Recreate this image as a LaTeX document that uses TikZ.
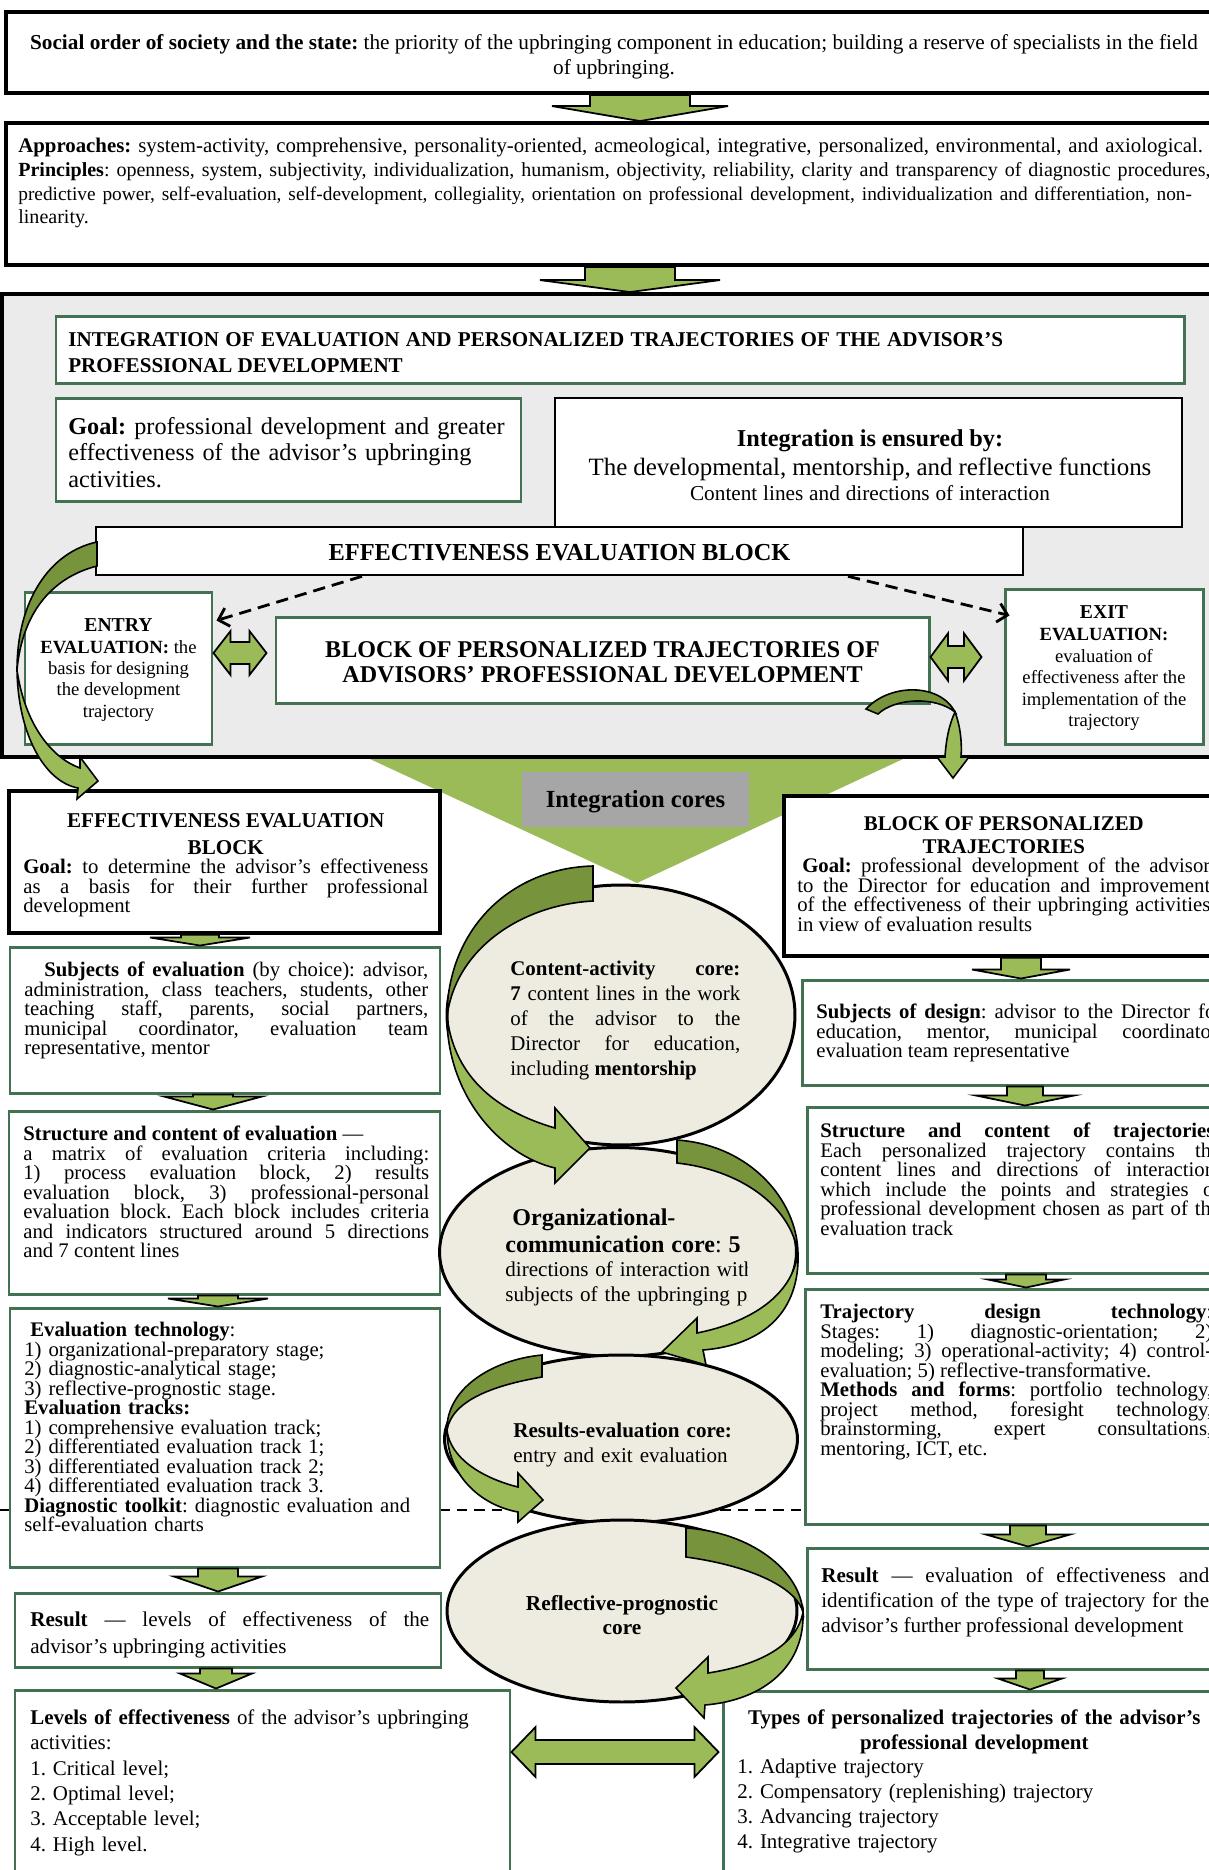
\documentclass[tikz,border=0pt]{standalone}
\usepackage{fontspec}
\setmainfont{Liberation Serif}
\usepackage{tikz}
\usetikzlibrary{shapes.geometric, arrows.meta, positioning, fit, calc}
\definecolor{arrowgreen}{RGB}{155,187,89}
\definecolor{darkgreen}{RGB}{119,147,60}
\definecolor{boxgreen}{RGB}{67,114,82}
\definecolor{panelgray}{RGB}{235,235,235}
\definecolor{coregray}{RGB}{166,166,166}
\definecolor{corefill}{RGB}{238,236,225}
\frenchspacing

\newcommand{\bodyfont}{\fontsize{11.8}{11.1}\selectfont\lineskiplimit=-4pt}

\tikzset{
  panel/.style={draw=black, line width=2.2pt, fill=panelgray, inner sep=0pt},
  thickbox/.style={draw=black, line width=2.2pt, fill=white, inner sep=0pt},
  blackbox/.style={draw=black, line width=1.5pt, fill=white, inner sep=0pt},
  greenbox/.style={draw=boxgreen, line width=1.7pt, fill=white, inner sep=0pt},
  txt/.style={anchor=north west, inner sep=0pt, text width=#1, align=justify, font=\bodyfont},
  ctxt/.style={inner sep=0pt, align=center},
  flowarrow/.style={fill=arrowgreen, draw=black, line width=1pt},
  curlight/.style={fill=arrowgreen, draw=black, line width=0.9pt},
  curdark/.style={fill=darkgreen, draw=black, line width=0.9pt},
  core/.style={ellipse, draw=black, line width=1.7pt, fill=corefill, inner sep=0pt},
  dasharrow/.style={line width=1.6pt, dash pattern=on 7pt off 4pt, -{Straight Barb[length=1.9mm,width=3.8mm]}},
}

% block arrow pointing down: x, from, to, shaft half, head half, head length
\newcommand{\flowdown}[6]{%
  \filldraw[flowarrow] (#1-#4,0 |- #2.south) -- (#1+#4,0 |- #2.south)
    -- ($(#1+#4,0 |- #3.north)+(0,-#6)$) -- ($(#1+#5,0 |- #3.north)+(0,-#6)$)
    -- (#1,0 |- #3.north)
    -- ($(#1-#5,0 |- #3.north)+(0,-#6)$) -- ($(#1-#4,0 |- #3.north)+(0,-#6)$) -- cycle;}

% two-headed block arrow: left tip, right tip, head length, head half, shaft half
\newcommand{\twoway}[5]{%
  \filldraw[flowarrow] let \p1=#1, \p2=#2 in
    (\p1) -- (\x1+#3,\y1+#4) -- (\x1+#3,\y1+#5) -- (\x2-#3,\y2+#5) -- (\x2-#3,\y2+#4)
    -- (\p2) -- (\x2-#3,\y2-#4) -- (\x2-#3,\y2-#5) -- (\x1+#3,\y1-#5) -- (\x1+#3,\y1-#4) -- cycle;}

\begin{document}
\begin{tikzpicture}[x=0.02cm, y=-0.02cm]
  \useasboundingbox (0,0) rectangle (1209,1870);
  \clip (0,0) rectangle (1209,1870);
  \fill[white] (0,0) rectangle (1209,1870);

  % separator line
  \draw[line width=1.2pt, dash pattern=on 6pt off 4pt] (0,1510) -- (805,1510);

  % top blocks
  \node[thickbox, fit={(6,12) (1225,93)}] (order) {};
  \node[font=\fontsize{12.1}{14.2}\selectfont, align=center, inner sep=0pt] (ordertext) at (614,57)
    {\textbf{Social order of society and the state:} the priority of the upbringing component in education; building a reserve of specialists in the field\\of upbringing.};

  \node[thickbox, fit={(6,123) (1225,265)}] (approach) {};
  \node[anchor=north west, inner sep=0pt, text width=26cm, align=left, font=\fontsize{11.85}{13.5}\selectfont] (approachtext) at (18,138)
    {\textbf{Approaches:} system-activity, comprehensive, personality-oriented, acmeological, integrative, personalized, environmental, and axiological.\\
     \makebox[23.78cm][s]{\fontsize{11.4}{13.5}\selectfont\textbf{Principles}: openness, system, subjectivity, individualization, humanism, objectivity, reliability, clarity and transparency of diagnostic procedures,}\\
     \makebox[23.7cm][s]{\fontsize{11}{13.5}\selectfont predictive power, self-evaluation, self-development, collegiality, orientation on professional development, individualization and differentiation, non-}\\
     {\fontsize{11.4}{13.5}\selectfont linearity.}};

  % integration panel
  \node[panel, fit={(2,294) (1225,757)}] (panel) {};

  \node[greenbox, fit={(56,316) (1184,383)}] (titlebox) {};
  \node[txt=18.7cm, font=\fontsize{12}{14.8}\selectfont\bfseries] (titletext) at (68,332)
    {INTEGRATION OF EVALUATION AND PERSONALIZED TRAJECTORIES OF THE ADVISOR'S\linebreak PROFESSIONAL DEVELOPMENT};

  \node[greenbox, fit={(56,398) (521,501)}] (goalbox) {};
  \node[txt=9.6cm, align=left, font=\fontsize{13.8}{15.1}\selectfont] (goaltext) at (68,417)
    {\textbf{Goal:} professional development and greater\\effectiveness of the advisor's upbringing\\activities.};

  \node[blackbox, fit={(555,398) (1182,527)}] (ensure) {};
  \node[anchor=north, inner sep=0pt, text width=12cm, align=center] (ensuretext) at (870,429)
    {{\fontsize{13.8}{16.5}\selectfont\textbf{Integration is ensured by:}\par\fontsize{14.2}{16.5}\selectfont The developmental, mentorship, and reflective functions\par}{\fontsize{12.1}{14.2}\selectfont Content lines and directions of interaction\par}};

  \node[blackbox, fit={(96,527) (1023,575)}] (eeb) {};
  \node[ctxt, font=\fontsize{13.9}{15}\selectfont\bfseries] (eebtext) at ($(eeb.center)+(0,2)$) {EFFECTIVENESS EVALUATION BLOCK};

  \node[greenbox, fit={(25,592) (212,744)}] (entry) {};
  \node[ctxt, font=\fontsize{10.6}{12.2}\selectfont] (entrytext) at ($(entry.center)+(0,2)$)
    {\fontsize{11.2}{12.2}\selectfont\textbf{ENTRY}\\\textbf{EVALUATION:}\fontsize{10.6}{12.2}\selectfont{} the\\basis for designing\\the development\\trajectory};
  \node[greenbox, fit={(1005,589) (1203,744)}] (exit) {};
  \node[ctxt, font=\fontsize{10.6}{12.3}\selectfont] (exittext) at ($(exit.center)+(0,2)$)
    {\fontsize{11.2}{12.3}\selectfont\textbf{EXIT}\\\textbf{EVALUATION:}\\\fontsize{10.6}{12.3}\selectfont evaluation of\\effectiveness after the\\implementation of the\\trajectory};
  \node[greenbox, fit={(276,617) (929,703)}] (bpt) {};
  \node[ctxt, font=\fontsize{13.7}{14.5}\selectfont\bfseries] (bpttext) at ($(bpt.center)+(0,2)$)
    {BLOCK OF PERSONALIZED TRAJECTORIES OF\\ADVISORS' PROFESSIONAL DEVELOPMENT};

  \draw[dasharrow] (eeb.south -| 362,0) -- ($(entry.north east)+(3,30)$);
  \draw[dasharrow] (eeb.south -| 848,0) -- ($(exit.north west)+(6,28)$);
  \twoway{(entry.east |- 0,653)}{($(bpt.west |- 0,653)+(-8,0)$)}{9.7pt}{12.5pt}{6.3pt}
  \twoway{(bpt.east |- 0,657)}{($(exit.west |- 0,657)+(-22,0)$)}{10pt}{13.5pt}{6.3pt}

  % funnel to the cores
  \fill[arrowgreen] (370,759) -- (903,759) -- (637,883) -- cycle;
  \node[fill=coregray, fit={(522,772) (749,827)}, inner sep=0pt] (corelabel) {};
  \node[ctxt, font=\fontsize{14}{15}\selectfont\bfseries] (corelabeltext) at ($(corelabel.center)+(0,2)$) {Integration cores};

  % left column
  \node[thickbox, line width=2pt, fit={(9,791) (440,933)}] (eeb2) {};
  \node[txt=8.1cm] (eeb2text) at (23,813)
    {{\centering\fontsize{12}{15.4}\selectfont\bfseries EFFECTIVENESS EVALUATION\\BLOCK\par}\textbf{Goal:} to determine the advisor's effectiveness\linebreak as a basis for their further professional\linebreak development};

  \node[greenbox, fit={(10,947) (440,1093)}] (subj) {};
  \node[txt=8.08cm] (subjtext) at (24,962)
    {\hspace*{0.4cm}\textbf{Subjects of evaluation} (by choice): advisor,\linebreak administration, class teachers, students, other\linebreak teaching staff, parents, social partners,\linebreak municipal coordinator, evaluation team\linebreak representative, mentor};

  \node[greenbox, fit={(9,1111) (440,1294)}] (struct) {};
  \node[txt=8.12cm] (structtext) at (23,1126)
    {\textbf{Structure and content of evaluation} —\\a matrix of evaluation criteria including:\linebreak 1) process evaluation block, 2) results\linebreak evaluation block, 3) professional-personal\linebreak evaluation block. Each block includes criteria\linebreak and indicators structured around 5 directions\linebreak and 7 content lines};

  \node[greenbox, fit={(10,1308) (440,1567)}] (evtech) {};
  \node[txt=8.1cm, align=left] (evtechtext) at (24,1322)
    {\hspace*{0.12cm}\textbf{Evaluation technology}:\\1) organizational-preparatory stage;\\2) diagnostic-analytical stage;\\3) reflective-prognostic stage.\\\textbf{Evaluation tracks:}\\1) comprehensive evaluation track;\\2) differentiated evaluation track 1;\\3) differentiated evaluation track 2;\\4) differentiated evaluation track 3.\\\textbf{Diagnostic toolkit}: diagnostic evaluation and\\self-evaluation charts};

  \node[greenbox, fit={(15,1593) (441,1667)}] (resl) {};
  \node[txt=7.98cm, font=\fontsize{12}{15.4}\selectfont] (resltext) at (30,1611)
    {\textbf{Result} — levels of effectiveness of the\linebreak advisor's upbringing activities};

  \node[greenbox, fit={(15,1690) (510,1900)}] (levels) {};
  \node[txt=9.4cm, align=left, font=\fontsize{11.9}{14.5}\selectfont] (levelstext) at (30,1709)
    {\textbf{Levels of effectiveness} of the advisor's upbringing\\activities:\\1. Critical level;\\2. Optimal level;\\3. Acceptable level;\\4. High level.};

  % right column
  \node[thickbox, line width=2pt, fit={(784,796) (1225,956)}] (bpt2) {};
  \node[txt=8.26cm] (bpt2text) at (797,816)
    {{\centering\fontsize{11.9}{13.1}\selectfont\bfseries BLOCK OF PERSONALIZED\\TRAJECTORIES\par}\hspace*{0.1cm}\textbf{Goal:} professional development of the advisor\linebreak to the Director for education and improvement\linebreak of the effectiveness of their upbringing activities\linebreak in view of evaluation results};

  \node[greenbox, fit={(802,980) (1225,1085)}] (subjd) {};
  \node[txt=8.12cm] (subjdtext) at (816,1004)
    {\textbf{Subjects of design}: advisor to the Director for\linebreak education, mentor, municipal coordinator,\linebreak evaluation team representative};

  \node[greenbox, fit={(807,1107) (1225,1273)}] (structr) {};
  \node[txt=8.0cm] (structrtext) at (820,1123)
    {\textbf{Structure and content of trajectories}:\linebreak Each personalized trajectory contains the\linebreak content lines and directions of interaction,\linebreak which include the points and strategies of\linebreak professional development chosen as part of the\linebreak evaluation track};

  \node[greenbox, fit={(805,1289) (1225,1524)}] (design) {};
  \node[txt=7.84cm] (designtext) at (820,1304)
    {\textbf{Trajectory design technology}:\linebreak Stages: 1) diagnostic-orientation; 2)\linebreak modeling; 3) operational-activity; 4) control-\linebreak evaluation; 5) reflective-transformative.\\\textbf{Methods and forms}: portfolio technology,\linebreak project method, foresight technology,\linebreak brainstorming, expert consultations,\linebreak mentoring, ICT, etc.};

  \node[greenbox, fit={(807,1548) (1225,1669)}] (resr) {};
  \node[txt=7.76cm, font=\fontsize{12}{14.2}\selectfont] (resrtext) at (821,1567)
    {\textbf{Result} — evaluation of effectiveness and\linebreak identification of the type of trajectory for the\linebreak advisor's further professional development};

  \node[greenbox, fit={(723,1691) (1225,1900)}] (types) {};
  \node[txt=9.48cm, align=left, font=\fontsize{11.9}{14.2}\selectfont] (typestext) at (737,1709)
    {{\centering\bfseries Types of personalized trajectories of the advisor's\\professional development\par}1. Adaptive trajectory\\2. Compensatory (replenishing) trajectory\\3. Advancing trajectory\\4. Integrative trajectory};

  % integration cores
  \node[core, minimum width=6.96cm, minimum height=5.2cm] (core1) at (621,1015) {};
  \node[core, minimum width=7.14cm, minimum height=4.18cm] (core2) at (618,1252) {};
  \node[core, minimum width=7.06cm, minimum height=3.36cm] (core3) at (621,1439) {};
  \node[core, minimum width=7.0cm, minimum height=3.64cm] (core4) at (622,1611) {};

  \node[txt=4.6cm, font=\fontsize{11.9}{14.2}\selectfont] (core1text) at (510,961)
    {\textbf{Content-activity core:}\linebreak \textbf{7} content lines in the work\linebreak of the advisor to the\linebreak Director for education,\linebreak including \textbf{mentorship}};
  \begin{scope}
    \clip (480,1198) rectangle (747,1320);
    \node[txt=6.5cm, align=left] (core2text) at (505,1208)
      {{\fontsize{13.7}{15.4}\selectfont\hspace*{0.14cm}\textbf{Organizational-}\\\textbf{communication core}: \textbf{5}\par}{\fontsize{12}{14}\selectfont directions of interaction with\\subjects of the upbringing process\par}};
  \end{scope}
  \node[txt=4.8cm, align=left, font=\fontsize{12}{13.7}\selectfont] (core3text) at (513,1423)
    {\textbf{Results-evaluation core:}\\entry and exit evaluation};
  \node[ctxt, font=\fontsize{12.1}{13.7}\selectfont\bfseries] (core4text) at ($(core4.center)+(0,4)$) {Reflective-prognostic\\core};

  % block arrows between boxes
  \flowdown{640}{order}{approach}{50}{88}{15}
  \flowdown{630}{approach}{panel}{45}{90}{12}
  \flowdown{200}{eeb2}{subj}{19}{50}{8}
  \flowdown{213}{subj}{struct}{20}{49}{13}
  \flowdown{218}{struct}{evtech}{20}{50}{8}
  \flowdown{218}{evtech}{resl}{20}{44}{15}
  \flowdown{216}{resl}{levels}{16}{36}{15}
  \flowdown{1021}{bpt2}{subjd}{20}{49}{9}
  \flowdown{1025}{subjd}{structr}{18}{49}{10}
  \flowdown{1026}{structr}{design}{20}{38}{8}
  \flowdown{1028}{design}{resr}{18}{42}{12}
  \flowdown{1030}{resr}{types}{14}{32}{11}
  \twoway{(levels.east |- 0,1752)}{($(types.west |- 0,1752)+(-3,0)$)}{13.7pt}{14.2pt}{6.8pt}

  % curved arrows round the cores
  \filldraw[curdark] (593,866) -- (593,901) .. controls (520,905) and (455,950) .. (447,1017)
    .. controls (447,930) and (510,868) .. (593,866) -- cycle;
  \filldraw[curlight] (447,1017) .. controls (447,1095) and (500,1155) .. (555,1168) -- (555,1183)
    -- (590,1148) -- (555,1108) -- (555,1128) .. controls (500,1112) and (455,1080) .. (447,1017) -- cycle;

  \filldraw[curdark] (677,1140) -- (677,1163) .. controls (740,1170) and (790,1205) .. (798,1253)
    .. controls (797,1200) and (750,1145) .. (677,1140) -- cycle;
  \filldraw[curlight] (798,1253) .. controls (800,1310) and (765,1345) .. (703,1350) -- (706,1365)
    -- (662,1352) -- (697,1318) -- (697,1333) .. controls (752,1322) and (792,1295) .. (798,1253) -- cycle;

  \filldraw[curdark] (542,1355) -- (542,1377) .. controls (495,1385) and (452,1400) .. (447,1430)
    .. controls (446,1390) and (490,1360) .. (542,1355) -- cycle;
  \filldraw[curlight] (447,1430) .. controls (447,1475) and (480,1505) .. (518,1512) -- (518,1522)
    -- (543,1500) -- (518,1473) -- (518,1487) .. controls (482,1478) and (450,1458) .. (447,1430) -- cycle;

  \filldraw[curdark] (686,1528) -- (686,1557) .. controls (745,1565) and (795,1585) .. (803,1612)
    .. controls (800,1570) and (750,1532) .. (686,1528) -- cycle;
  \filldraw[curlight] (803,1612) .. controls (805,1665) and (765,1700) .. (705,1705) -- (704,1718)
    -- (676,1688) -- (708,1657) -- (708,1673) .. controls (760,1665) and (797,1645) .. (803,1612) -- cycle;

  % curved arrows out of the panel
  \filldraw[curdark] (97,542) -- (97,566) .. controls (50,578) and (22,615) .. (17,670)
    .. controls (17,600) and (50,552) .. (97,542) -- cycle;
  \filldraw[curlight] (17,670) .. controls (18,735) and (45,782) .. (78,788) -- (77,799)
    -- (98,781) -- (80,757) -- (80,768) .. controls (52,758) and (25,725) .. (17,670) -- cycle;

  \filldraw[curdark] (866,709) .. controls (890,683) and (940,683) .. (955,712)
    .. controls (935,696) and (895,698) .. (878,714) -- cycle;
  \filldraw[curlight] (955,712) .. controls (961,728) and (962,745) .. (961,757) -- (969,757)
    -- (953,778) -- (937,757) -- (945,757) .. controls (946,740) and (949,725) .. (955,712) -- cycle;
\end{tikzpicture}
\end{document}
